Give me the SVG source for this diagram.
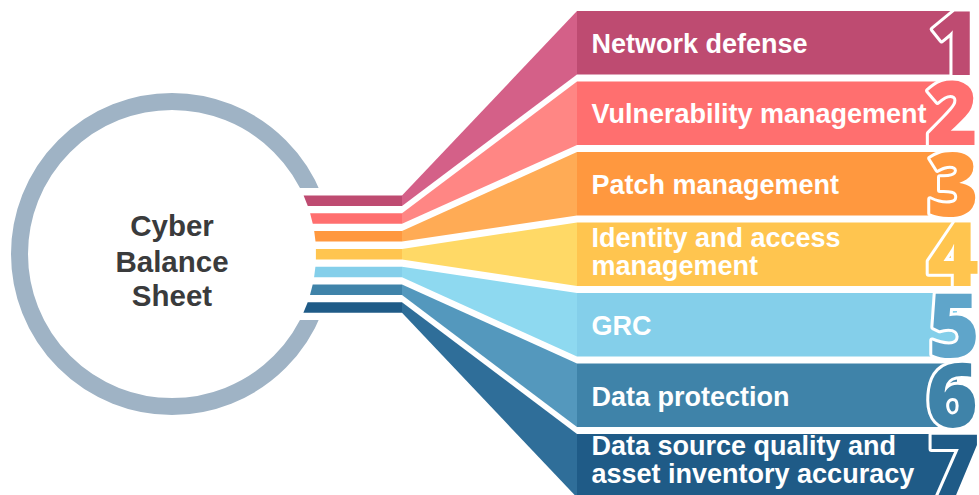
<svg xmlns="http://www.w3.org/2000/svg" width="979" height="495" viewBox="0 0 979 495">
<style>
.lbl{font-family:"Liberation Sans",Arial,sans-serif;font-weight:bold;font-size:27px;fill:#ffffff}
.num{font-family:"Open Sans","DejaVu Sans",sans-serif;font-weight:800;font-size:88px;text-anchor:middle;stroke:#ffffff;stroke-width:6;stroke-linejoin:round;paint-order:stroke}
.ctr{font-family:"Liberation Sans",Arial,sans-serif;font-weight:bold;font-size:29.5px;fill:#3a3b3c;text-anchor:middle}
</style>
<rect width="979" height="495" fill="#ffffff"/>
<g id="hub">
<circle cx="172" cy="254" r="152.5" fill="none" stroke="#9fb3c5" stroke-width="17"/>
<rect x="290" y="188" width="50" height="132" fill="#ffffff"/>
<text class="ctr" x="172" y="236">Cyber</text>
<text class="ctr" x="172" y="271.5">Balance</text>
<text class="ctr" x="172" y="306">Sheet</text>
</g>
<g id="connectors">
<polygon points="303.6,195.5 402,195.5 402,206 307.8,206" fill="#be4b71"/>
<polygon points="402,195.5 577,11 577,74.5 402,206" fill="#d46088"/>
<polygon points="310.1,213.3 402,213.3 402,223.8 312.8,223.8" fill="#ff6f6f"/>
<polygon points="402,213.3 577,81.5 577,145 402,223.8" fill="#ff8684"/>
<polygon points="314.2,231.1 402,231.1 402,241.6 315.5,241.6" fill="#ff983f"/>
<polygon points="402,231.1 577,152 577,215.5 402,241.6" fill="#ffab55"/>
<polygon points="315.9,248.9 402,248.9 402,259.4 315.9,259.4" fill="#ffc54f"/>
<polygon points="402,248.9 577,222.5 577,286 402,259.4" fill="#ffd966"/>
<polygon points="315.4,266.7 402,266.7 402,277.2 314.1,277.2" fill="#84cfea"/>
<polygon points="402,266.7 577,293 577,356.5 402,277.2" fill="#8ed9f0"/>
<polygon points="312.7,284.5 402,284.5 402,295 310,295" fill="#3f83a9"/>
<polygon points="402,284.5 577,363.5 577,427 402,295" fill="#5498bd"/>
<polygon points="307.7,302.3 402,302.3 402,312.8 303.4,312.8" fill="#1f5b87"/>
<polygon points="402,302.3 577,434 577,497.5 402,312.8" fill="#2f6e99"/>
</g>
<g id="node1">
<rect x="577" y="11" width="380" height="63.5" fill="#be4b71"/>
<text class="lbl" x="591.5" y="53">Network defense</text>
<text class="num" x="955" y="74.5" fill="#be4b71">1</text>
</g>
<g id="node2">
<rect x="577" y="81.5" width="380" height="63.5" fill="#ff6f6f"/>
<text class="lbl" x="591.5" y="123">Vulnerability management</text>
<text class="num" x="952" y="145" fill="#ff6f6f">2</text>
</g>
<g id="node3">
<rect x="577" y="152" width="380" height="63.5" fill="#ff983f"/>
<text class="lbl" x="591.5" y="193.5">Patch management</text>
<text class="num" x="953" y="215.5" fill="#ff983f">3</text>
</g>
<g id="node4">
<rect x="577" y="222.5" width="380" height="63.5" fill="#ffc54f"/>
<text class="lbl" x="591.5" y="246.7">Identity and access</text>
<text class="lbl" x="591.5" y="275">management</text>
<text class="num" x="953" y="286" fill="#ffc54f">4</text>
</g>
<g id="node5">
<rect x="577" y="293" width="380" height="63.5" fill="#84cfea"/>
<text class="lbl" x="591.5" y="335">GRC</text>
<text class="num" x="954" y="356.5" fill="#5fa5ca">5</text>
</g>
<g id="node6">
<rect x="577" y="363.5" width="380" height="63.5" fill="#3f83a9"/>
<text class="lbl" x="591.5" y="405.5">Data protection</text>
<text class="num" x="952" y="427" fill="#3f83a9">6</text>
</g>
<g id="node7">
<rect x="577" y="434" width="380" height="63.5" fill="#1f5b87"/>
<text class="lbl" x="591.5" y="455">Data source quality and</text>
<text class="lbl" x="591.5" y="483.3">asset inventory accuracy</text>
<text class="num" x="954" y="497.5" fill="#1f5b87">7</text>
</g>
</svg>
